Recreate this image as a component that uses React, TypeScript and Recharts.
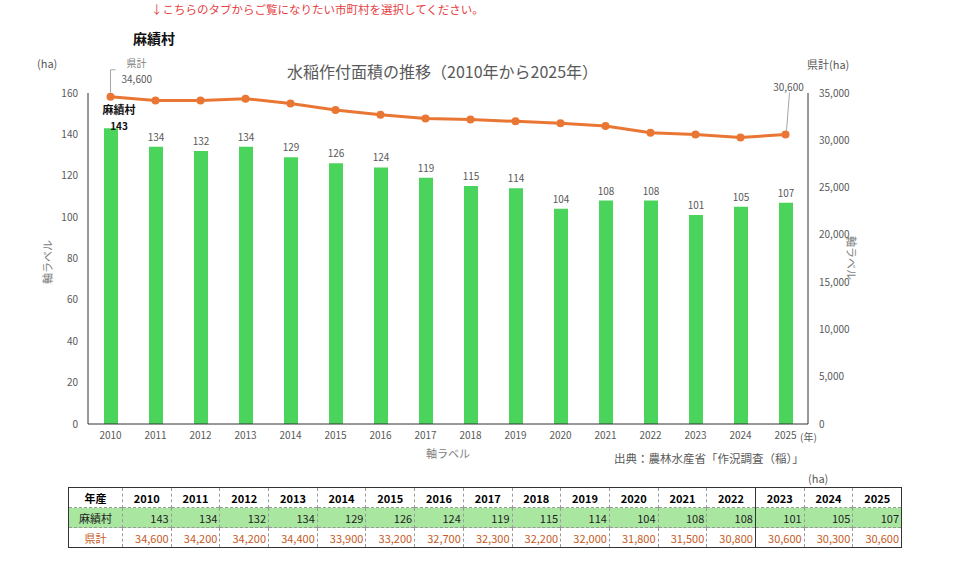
import { ComposedChart, Bar, Line, XAxis, YAxis } from "recharts"

const years = ["2010", "2011", "2012", "2013", "2014", "2015", "2016", "2017", "2018", "2019", "2020", "2021", "2022", "2023", "2024", "2025"]
const villageArea = [143, 134, 132, 134, 129, 126, 124, 119, 115, 114, 104, 108, 108, 101, 105, 107]
const prefArea = [34600, 34200, 34200, 34400, 33900, 33200, 32700, 32300, 32200, 32000, 31800, 31500, 30800, 30600, 30300, 30600]
const leftTicks = [0, 20, 40, 60, 80, 100, 120, 140, 160]
const rightTicks = [0, 5000, 10000, 15000, 20000, 25000, 30000, 35000]

const villageName = "麻績村"
const prefName = "県計"

const data = years.map((y, i) => ({ year: y, village: villageArea[i], pref: prefArea[i] }))

const FONT = '"Noto Sans CJK JP", "Noto Sans", sans-serif'
const GREEN = "#4AD45C"
const ORANGE = "#EA7634"
const GRAY = "#595959"

const fmt = (v: number) => v.toLocaleString("en-US")

const barLabel = (p: any) => {
  const { x, y, width, value, index } = p
  const cx = x + width / 2
  if (index === 0) {
    return (
      <g>
        <text x={cx + 8} y={y - 14} textAnchor="middle" fontSize={11} fontWeight="bold" fill="#111">{villageName}</text>
        <text x={cx + 8} y={y + 2} textAnchor="middle" fontSize={10} fontWeight="bold" fill="#111">{value}</text>
      </g>
    )
  }
  return <text x={cx} y={y - 6} textAnchor="middle" fontSize={10} fill={GRAY}>{value}</text>
}

const lineLabel = (p: any) => {
  const { x, y, value, index } = p
  if (index === 0) {
    return (
      <g>
        <polyline points={`${x},${y - 4} ${x},${y - 27} ${x + 5},${y - 27}`} fill="none" stroke="#a6a6a6" strokeWidth={1} />
        <text x={x + 16} y={y - 30} fontSize={10} fill="#808080">{prefName}</text>
        <text x={x + 11} y={y - 14} fontSize={10} fill={GRAY}>{fmt(value)}</text>
      </g>
    )
  }
  if (index === years.length - 1) {
    return (
      <g>
        <line x1={x + 1} y1={y - 4} x2={x + 4} y2={y - 42} stroke="#a6a6a6" strokeWidth={1} />
        <text x={x + 3} y={y - 44} textAnchor="middle" fontSize={10} fill={GRAY}>{fmt(value)}</text>
      </g>
    )
  }
  return null
}

const abs = (left: number, top: number, extra: any = {}) => ({ position: "absolute" as const, left, top, whiteSpace: "nowrap" as const, lineHeight: 1, ...extra })

const cell = { borderLeft: "1px dashed #9a9a9a", padding: "0 2px", height: 19, fontSize: 11 }

export default function App() {
  return (
    <div style={{ position: "absolute", left: 0, top: 0, width: 960, height: 568, background: "#fff", fontFamily: FONT, overflow: "hidden" }}>
      <ComposedChart width={960} height={568} data={data} margin={{ top: 93, right: 92, left: 48, bottom: 114 }} style={{ position: "absolute", left: 0, top: 0 }}>
        <XAxis dataKey="year" axisLine={{ stroke: "#333" }} tickLine={false} height={30} tick={{ fontSize: 10, fill: GRAY, fontFamily: FONT }} interval={0} />
        <YAxis yAxisId="left" domain={[0, 160]} ticks={leftTicks} width={40} axisLine={{ stroke: "#333" }} tickLine={false} tickMargin={4} tick={{ fontSize: 10, fill: GRAY, fontFamily: FONT }} />
        <YAxis yAxisId="right" orientation="right" domain={[0, 35000]} ticks={rightTicks} width={60} axisLine={{ stroke: "#333" }} tickLine={false} tickMargin={5} tickFormatter={fmt} tick={{ fontSize: 10, fill: GRAY, fontFamily: FONT, textAnchor: "start" }} />
        <Bar yAxisId="left" dataKey="village" fill={GREEN} barSize={14} isAnimationActive={false} label={barLabel} />
        <Line yAxisId="right" dataKey="pref" stroke={ORANGE} strokeWidth={3} dot={{ r: 4, fill: ORANGE, stroke: ORANGE, strokeWidth: 0 }} isAnimationActive={false} label={lineLabel} />
      </ComposedChart>

      <div style={abs(151, 4, { fontSize: 11.5, color: "#E6403F" })}>↓こちらのタブからご覧になりたい市町村を選択してください。</div>
      <div style={abs(133, 31, { fontSize: 14, fontWeight: "bold", color: "#111" })}>{villageName}</div>
      <div style={abs(37, 58, { fontSize: 11, color: GRAY })}>(ha)</div>
      <div style={abs(287, 63, { fontSize: 16, color: GRAY })}>水稲作付面積の推移（2010年から2025年）</div>
      <div style={abs(807, 59, { fontSize: 11, color: GRAY })}>県計(ha)</div>
      <div style={abs(41, 262, { fontSize: 11, color: "#808080", transform: "translate(-50%, -50%) rotate(-90deg)", left: 47 })}>軸ラベル</div>
      <div style={abs(851, 258, { fontSize: 11, color: "#808080", transform: "translate(-50%, -50%) rotate(90deg)" })}>軸ラベル</div>
      <div style={abs(800, 432, { fontSize: 10, color: GRAY })}>(年)</div>
      <div style={abs(426, 448, { fontSize: 11, color: "#808080" })}>軸ラベル</div>
      <div style={abs(614, 453, { fontSize: 11.5, color: GRAY })}>出典：農林水産省「作況調査（稲）」</div>
      <div style={abs(808, 473, { fontSize: 11, color: GRAY })}>(ha)</div>

      <table style={{ position: "absolute", left: 68, top: 487, width: 834, borderCollapse: "collapse", tableLayout: "fixed", border: "1px solid #333", fontFamily: FONT }}>
        <colgroup>
          <col style={{ width: 54 }} />
          {years.map((y) => <col key={y} />)}
        </colgroup>
        <tbody>
          <tr style={{ borderBottom: "1px dashed #9a9a9a" }}>
            <td style={{ ...cell, borderLeft: "none", textAlign: "center", fontWeight: "bold" }}>年産</td>
            {years.map((y, i) => (
              <td key={y} style={{ ...cell, textAlign: "center", fontWeight: "bold", borderLeft: i === 13 ? "1px solid #333" : cell.borderLeft }}>{y}</td>
            ))}
          </tr>
          <tr style={{ background: "#A9E6A0", borderBottom: "1px dashed #9a9a9a" }}>
            <td style={{ ...cell, borderLeft: "none", textAlign: "center", color: "#222" }}>{villageName}</td>
            {villageArea.map((v, i) => (
              <td key={i} style={{ ...cell, textAlign: "right", color: "#222", borderLeft: i === 13 ? "1px solid #333" : cell.borderLeft }}>{v}</td>
            ))}
          </tr>
          <tr>
            <td style={{ ...cell, borderLeft: "none", textAlign: "center", color: "#C65A1E" }}>{prefName}</td>
            {prefArea.map((v, i) => (
              <td key={i} style={{ ...cell, textAlign: "right", color: "#C65A1E", borderLeft: i === 13 ? "1px solid #333" : cell.borderLeft }}>{fmt(v)}</td>
            ))}
          </tr>
        </tbody>
      </table>
    </div>
  )
}
